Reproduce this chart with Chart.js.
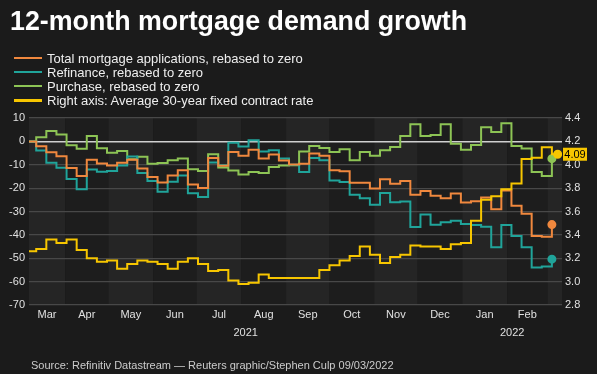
<!DOCTYPE html>
<html lang="en">
<head>
  <meta charset="UTF-8" />
  <title>12-month mortgage demand growth</title>
  <script src="https://cdn.jsdelivr.net/npm/chart.js"></script>
  <style>
    html, body {
      margin: 0;
      padding: 0;
      background: #1b1b1b;
    }
    body {
      width: 597px;
      height: 374px;
      position: relative;
      overflow: hidden;
      font-family: "Liberation Sans", Arial, sans-serif;
      color: #fff;
    }
    #chart {
      position: absolute;
      left: 0;
      top: 0;
    }
    h1 {
      position: absolute;
      left: 10px;
      top: 8px;
      margin: 0;
      font-size: 26.8px;
      line-height: 1;
      font-weight: bold;
      color: #fff;
    }
    .legend {
      position: absolute;
      left: 14px;
      top: 51px;
      font-size: 13px;
      color: #eee;
    }
    .legend div {
      display: flex;
      align-items: center;
      height: 14.1px;
    }
    .legend .swatch {
      width: 28px;
      height: 2.5px;
      margin-right: 5px;
    }
    .source {
      position: absolute;
      left: 31px;
      top: 359px;
      font-size: 11px;
      line-height: 12px;
      color: #ccc;
    }
  </style>
</head>
<body>
  <canvas id="chart" width="597" height="374"></canvas>

  <h1>12-month mortgage demand growth</h1>
  <div class="legend">
    <div><span class="swatch" style="background:#f0883e"></span>Total mortgage applications, rebased to zero</div>
    <div><span class="swatch" style="background:#20a49a"></span>Refinance, rebased to zero</div>
    <div><span class="swatch" style="background:#8dc455"></span>Purchase, rebased to zero</div>
    <div><span class="swatch" style="background:#f7c600"></span>Right axis: Average 30-year fixed contract rate</div>
  </div>
  <div class="source">Source: Refinitiv Datastream — Reuters graphic/Stephen Culp 09/03/2022</div>

  <script>
    // weekly MBA survey dates (week ending)
    const weeks = [
      '2021-03-05', '2021-03-12', '2021-03-19', '2021-03-26', '2021-04-02', '2021-04-09', '2021-04-16',
      '2021-04-23', '2021-04-30', '2021-05-07', '2021-05-14', '2021-05-21', '2021-05-28', '2021-06-04',
      '2021-06-11', '2021-06-18', '2021-06-25', '2021-07-02', '2021-07-09', '2021-07-16', '2021-07-23',
      '2021-07-30', '2021-08-06', '2021-08-13', '2021-08-20', '2021-08-27', '2021-09-03', '2021-09-10',
      '2021-09-17', '2021-09-24', '2021-10-01', '2021-10-08', '2021-10-15', '2021-10-22', '2021-10-29',
      '2021-11-05', '2021-11-12', '2021-11-19', '2021-11-26', '2021-12-03', '2021-12-10', '2021-12-17',
      '2021-12-24', '2021-12-31', '2022-01-07', '2022-01-14', '2022-01-21', '2022-01-28', '2022-02-04',
      '2022-02-11', '2022-02-18', '2022-02-25', '2022-03-04'
    ];

    const total = [
      0, -2.1, -4.6, -6.4, -11.4, -14.8, -7.9, -9.5, -10.3, -9.1,
      -7.9, -11.6, -15.2, -17.6, -14.6, -12.4, -18.4, -19.9, -7.1, -10.4,
      -4.5, -6.1, -3.6, -7.3, -5.6, -8.2, -9.9, -9.6, -5.2, -6.2,
      -12.4, -12.8, -17.7, -17.7, -20.2, -16.2, -18.1, -16.9, -22.8, -21.2,
      -23.3, -24.3, -22.3, -26.2, -25.6, -24.0, -29.0, -21.0, -27.5, -31.0,
      -40.5, -40.8, -35.6
    ];

    const refinance = [
      0, -3.9, -9.1, -11.3, -16.1, -20.5, -12.0, -13.0, -12.7, -10.3,
      -6.5, -13.5, -17.0, -21.6, -17.3, -14.6, -22.2, -23.8, -9.0, -10.2,
      -0.6, -2.2, 0.5, -4.3, -3.8, -7.3, -10.0, -13.1, -7.1, -8.1,
      -16.7, -17.4, -22.8, -24.3, -27.1, -22.1, -26.0, -25.7, -36.6, -31.3,
      -35.7, -34.6, -34.0, -35.3, -35.8, -36.5, -45.3, -35.8, -40.5, -45.3,
      -54.0, -53.5, -50.4
    ];

    const purchase = [
      0, 1.8, 4.4, 2.9, -1.7, -3.2, 2.3, -2.9, -4.9, -4.1,
      -7.6, -6.6, -9.6, -9.3, -8.1, -7.3, -11.9, -12.7, -5.5, -11.2,
      -12.5, -14.2, -13.1, -13.5, -11.0, -10.3, -10.2, -4.3, -2.0, -2.8,
      -4.5, -3.4, -8.1, -4.5, -6.2, -3.8, -2.4, 2.3, 7.3, 2.3,
      2.7, 7.3, -1.0, -3.6, -1.6, 6.0, 4.0, 7.8, -2.0, -3.1,
      -13.1, -14.8, -7.4
    ];

    // contract rate has one more reading than the survey
    const rateDates = weeks.concat(['2022-03-08']);
    const rate = [
      3.26, 3.28, 3.36, 3.33, 3.36, 3.27, 3.20, 3.17, 3.18, 3.11,
      3.15, 3.18, 3.17, 3.15, 3.11, 3.17, 3.20, 3.15, 3.09, 3.10,
      3.01, 2.98, 2.99, 3.06, 3.03, 3.03, 3.03, 3.03, 3.03, 3.10,
      3.14, 3.18, 3.22, 3.30, 3.23, 3.16, 3.21, 3.23, 3.31, 3.30,
      3.30, 3.28, 3.32, 3.33, 3.52, 3.70, 3.73, 3.79, 3.84, 4.05,
      4.06, 4.15, 4.09, 4.09
    ];

    const monthLabels = ['Mar', 'Apr', 'May', 'Jun', 'Jul', 'Aug', 'Sep', 'Oct', 'Nov', 'Dec', 'Jan', 'Feb'];
    const monthStarts = [
      '2021-03-01', '2021-04-01', '2021-05-01', '2021-06-01', '2021-07-01', '2021-08-01', '2021-09-01',
      '2021-10-01', '2021-11-01', '2021-12-01', '2022-01-01', '2022-02-01', '2022-03-01', '2022-04-01'
    ];
    const yearLabels = ['2021', '2022'];
    const yearStarts = ['2021-01-01', '2022-01-01', '2023-01-01'];

    const leftTicks = { min: -70, max: 10, step: 10 };
    const rightTicks = { min: 2.8, max: 4.4, step: 0.2 };
    const xRange = ['2021-03-07', '2022-03-11'];

    const day = s => Date.parse(s) / 864e5;
    const xMin = day(xRange[0]), xMax = day(xRange[1]);
    const clampMid = (a, b) => (Math.max(a, xMin) + Math.min(b, xMax)) / 2;

    const toPoints = (dates, vals) => vals.map((v, i) => ({ x: day(dates[i]), y: v }));

    const colors = { total: '#f0883e', refi: '#20a49a', purchase: '#8dc455', rate: '#f7c600' };

    const lastDot = n => (ctx) => ctx.dataIndex === n - 1 ? 3.5 : 0;

    const series = (label, dates, vals, color, axis) => ({
      label,
      data: toPoints(dates, vals),
      borderColor: color,
      backgroundColor: color,
      borderWidth: 2,
      stepped: true,
      fill: false,
      pointRadius: lastDot(vals.length),
      pointHoverRadius: 0,
      yAxisID: axis,
      xAxisID: 'x'
    });

    // alternating month bands behind the grid
    const monthBands = {
      id: 'monthBands',
      beforeDraw(chart) {
        const { ctx, chartArea: a, scales: { x } } = chart;
        ctx.save();
        ctx.beginPath();
        ctx.rect(a.left, a.top, a.width, a.height);
        ctx.clip();
        for (let i = 0; i < monthStarts.length - 1; i++) {
          const x0 = x.getPixelForValue(day(monthStarts[i]));
          const x1 = x.getPixelForValue(day(monthStarts[i + 1]));
          ctx.fillStyle = i % 2 === 0 ? '#252525' : '#1d1d1d';
          ctx.fillRect(x0, a.top, x1 - x0, a.height);
        }
        ctx.restore();
      }
    };

    // yellow value tag on the right axis
    const rateTag = {
      id: 'rateTag',
      afterDraw(chart) {
        const { ctx, chartArea: a, scales: { y2 } } = chart;
        const v = rate[rate.length - 1];
        const yy = y2.getPixelForValue(v);
        ctx.save();
        ctx.fillStyle = colors.rate;
        ctx.fillRect(a.right + 1, yy - 6.5, 24, 13);
        ctx.fillStyle = '#000';
        ctx.font = '11px "Liberation Sans", Arial, sans-serif';
        ctx.textAlign = 'center';
        ctx.textBaseline = 'middle';
        ctx.fillText(v.toFixed(2), a.right + 13, yy + 0.5);
        ctx.restore();
      }
    };

    Chart.defaults.font.family = '"Liberation Sans", Arial, sans-serif';
    Chart.defaults.font.size = 11;
    Chart.defaults.color = '#dddddd';

    new Chart(document.getElementById('chart').getContext('2d'), {
      type: 'line',
      data: {
        datasets: [
          series('Right axis: Average 30-year fixed contract rate', rateDates, rate, colors.rate, 'y2'),
          series('Total mortgage applications, rebased to zero', weeks, total, colors.total, 'y'),
          series('Refinance, rebased to zero', weeks, refinance, colors.refi, 'y'),
          series('Purchase, rebased to zero', weeks, purchase, colors.purchase, 'y')
        ]
      },
      options: {
        responsive: false,
        animation: false,
        layout: { padding: { top: 118, bottom: 29, left: 0, right: 0 } },
        plugins: {
          legend: { display: false },
          tooltip: { enabled: false }
        },
        scales: {
          x: {
            type: 'linear',
            position: 'bottom',
            weight: 0,
            min: xMin,
            max: xMax,
            bounds: 'data',
            grid: { display: false, drawTicks: false },
            border: { display: false },
            afterBuildTicks: s => {
              s.ticks = monthLabels.map((_, i) => ({ value: clampMid(day(monthStarts[i]), day(monthStarts[i + 1])) }));
            },
            afterFit: s => { s.height = 20; },
            ticks: {
              autoSkip: false,
              maxRotation: 0,
              padding: 3,
              color: '#e0e0e0',
              callback: (v, i) => monthLabels[i]
            }
          },
          x2: {
            type: 'linear',
            position: 'bottom',
            weight: 1,
            min: xMin,
            max: xMax,
            bounds: 'data',
            grid: { display: false, drawTicks: false },
            border: { display: false },
            afterBuildTicks: s => {
              s.ticks = yearLabels.map((_, i) => ({ value: clampMid(day(yearStarts[i]), day(yearStarts[i + 1])) }));
            },
            afterFit: s => { s.height = 20; },
            ticks: {
              autoSkip: false,
              maxRotation: 0,
              padding: 1,
              color: '#e0e0e0',
              callback: (v, i) => yearLabels[i]
            }
          },
          y: {
            position: 'left',
            min: leftTicks.min,
            max: leftTicks.max,
            afterFit: s => { s.width = 29; },
            grid: {
              drawTicks: false,
              color: c => c.tick.value === 0 ? '#d0d0d0' : '#484848',
              lineWidth: c => c.tick.value === 0 ? 1.6 : 1.2
            },
            border: { display: false },
            ticks: { stepSize: leftTicks.step, padding: 4, color: '#e0e0e0' }
          },
          y2: {
            position: 'right',
            min: rightTicks.min,
            max: rightTicks.max,
            afterFit: s => { s.width = 35; },
            grid: { display: false, drawTicks: false },
            border: { display: false },
            ticks: {
              stepSize: rightTicks.step,
              padding: 3,
              color: '#e0e0e0',
              callback: v => v.toFixed(1)
            }
          }
        }
      },
      plugins: [monthBands, rateTag]
    });
  </script>
</body>
</html>
